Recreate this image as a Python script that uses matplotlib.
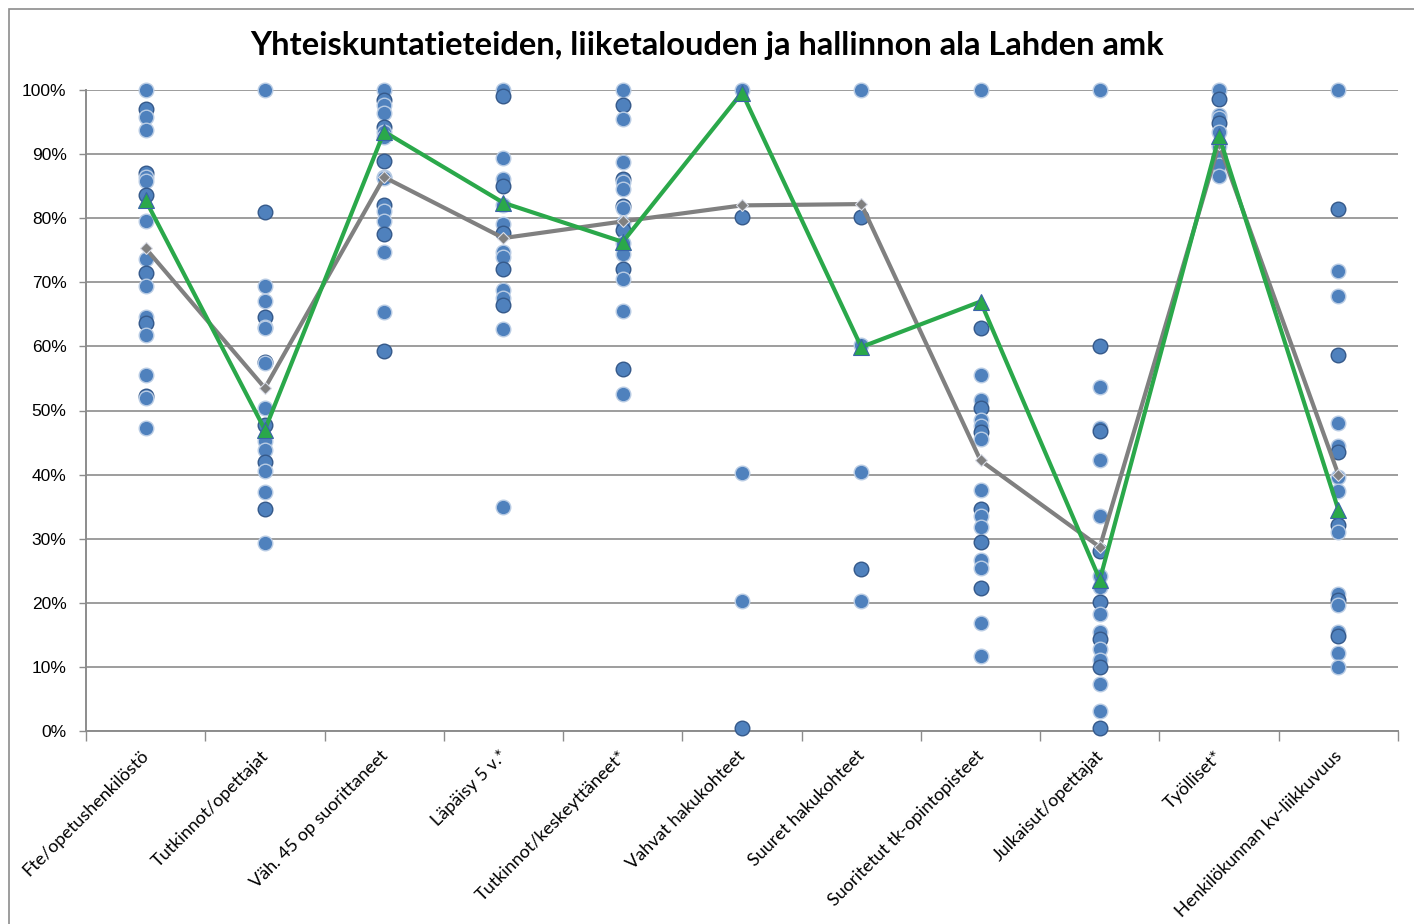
import numpy as np
import matplotlib
matplotlib.use('Agg')
import matplotlib.pyplot as plt
import matplotlib.ticker as mticker
from matplotlib.patches import Rectangle

categories = ['Fte/opetushenkilöstö', 'Tutkinnot/opettajat', 'Väh. 45 op suorittaneet',
              'Läpäisy 5 v.*', 'Tutkinnot/keskeyttäneet*', 'Vahvat hakukohteet',
              'Suuret hakukohteet', 'Suoritetut tk-opintopisteet', 'Julkaisut/opettajat',
              'Työlliset*', 'Henkilökunnan kv-liikkuvuus']

# other schools, values in % per category
dots_fte = [100, 97.1, 95.8, 93.8, 87.1, 86.5, 85.8, 83.6, 79.6, 73.6, 71.4, 69.4,
            64.6, 63.6, 61.8, 55.6, 52.3, 52.0, 47.3]
dots_tutk_opet = [100, 80.9, 69.4, 67.1, 64.6, 63.1, 62.8, 57.6, 57.4, 50.4, 47.7,
                  45.3, 43.9, 41.9, 40.5, 37.3, 34.6, 29.4]
dots_vah45 = [100, 98.5, 97.7, 96.4, 94.3, 93.5, 92.7, 88.9, 86.5, 86.2, 82.1, 81.1,
              79.6, 77.6, 74.8, 65.3, 59.3]
dots_lapaisy = [100, 99.0, 89.4, 86.1, 85.0, 82.1, 79.1, 77.7, 74.8, 74.0, 72.1,
                68.8, 67.5, 66.5, 62.7, 34.9]
dots_tutk_kesk = [100, 97.6, 95.5, 88.8, 86.1, 85.7, 84.6, 81.9, 81.6, 79.3, 78.2,
                  76.2, 74.4, 72.1, 70.5, 65.6, 56.5, 52.5]
dots_vahvat = [100, 80.2, 40.3, 20.3, 0.5]
dots_suuret = [100, 80.2, 60.2, 40.4, 25.3, 20.3]
dots_tk_op = [100, 62.8, 55.6, 51.6, 50.4, 48.5, 47.6, 46.7, 45.5, 37.6, 34.6, 33.5,
              31.9, 29.5, 26.7, 25.5, 22.3, 16.9, 11.7]
dots_julk = [100, 60.0, 53.6, 47.2, 46.8, 42.3, 33.5, 28.1, 24.2, 22.5, 20.2, 18.2,
             15.5, 14.3, 12.8, 11.1, 10.0, 7.3, 3.1, 0.4]
dots_tyol = [100, 98.6, 96.1, 95.6, 94.9, 93.5, 91.3, 89.6, 88.3, 86.6]
dots_kv = [100, 81.4, 71.7, 67.8, 58.7, 48.1, 44.4, 43.5, 39.6, 37.5, 32.2, 31.0,
           21.4, 20.5, 19.6, 15.4, 14.8, 12.1, 10.0]

# average (gray) and Lahden amk (green)
keskiarvo = [75.3, 53.5, 86.4, 76.9, 79.5, 82.0, 82.2, 42.2, 28.7, 91.5, 40.0]
lahti = [82.8, 47.0, 93.5, 82.4, 76.3, 99.6, 59.9, 67.0, 23.6, 92.8, 34.5]

ytick_vals = np.arange(0, 101, 10)

all_dots = [dots_fte, dots_tutk_opet, dots_vah45, dots_lapaisy, dots_tutk_kesk,
            dots_vahvat, dots_suuret, dots_tk_op, dots_julk, dots_tyol, dots_kv]

blue = '#4F81BD'
fig = plt.figure(figsize=(14.14, 9.24), dpi=100)
ax = fig.add_axes([86/1414, 1-731/924, (1398-86)/1414, (731-90)/924])

# chart border
fig.patches.append(Rectangle((9/1414, -0.1), 1.2, 1-9/924+0.1, transform=fig.transFigure,
                             fill=False, edgecolor='#8c8c8c', linewidth=1.2))

for i, vals in enumerate(all_dots):
    v = np.array(vals)
    xs = np.full(len(v), i)
    for j in range(len(v)):
        ec = '#35598a' if j % 3 == 1 else '#b9cce4'
        ax.plot(xs[j], v[j], 'o', ms=10.5, mfc=blue, mec=ec, mew=1.0,
                clip_on=False, zorder=3)

x = np.arange(len(categories))
ax.plot(x, keskiarvo, '-', color='#808080', lw=3.0, marker='D', ms=6,
        mfc='#808080', mec='#d9dde8', mew=0.8, zorder=4, clip_on=False)
ax.plot(x, lahti, '-', color='#2aa84a', lw=3.0, marker='^', ms=12,
        mfc='#2aa84a', mec='#3a64a8', mew=0.8, zorder=5, clip_on=False)

ax.set_xlim(-0.5, len(categories) - 0.5)
ax.set_ylim(0, 100)
ax.set_yticks(ytick_vals)
ax.yaxis.set_major_formatter(mticker.FuncFormatter(lambda v, p: '%d%%' % v))
ax.yaxis.grid(True, color='#8c8c8c', lw=1.2)
ax.set_axisbelow(True)
ax.xaxis.set_major_locator(mticker.FixedLocator(np.arange(-0.5, len(categories), 1)))
ax.xaxis.set_major_formatter(mticker.NullFormatter())
ax.tick_params(axis='x', length=7, color='#8c8c8c', width=1.0)
ax.tick_params(axis='y', length=5, color='#8c8c8c', width=1.0, labelsize=12.5, pad=9)
for lab in ax.get_yticklabels():
    lab.set_family('Liberation Sans')

for s in ['top', 'right']:
    ax.spines[s].set_visible(False)
for s in ['left', 'bottom']:
    ax.spines[s].set_color('#8c8c8c')
    ax.spines[s].set_linewidth(1.4)

for i, c in enumerate(categories):
    ax.text(i - 0.04, -2.6, c, rotation=45, ha='right', va='top', rotation_mode='anchor',
            fontsize=13, family='Lato', transform=ax.transData)

fig.text(0.5, 1 - 46/924, 'Yhteiskuntatieteiden, liiketalouden ja hallinnon ala Lahden amk',
         ha='center', va='center', fontsize=23.5, fontweight='bold', family='Lato')

fig.savefig('out.png', dpi=100)
